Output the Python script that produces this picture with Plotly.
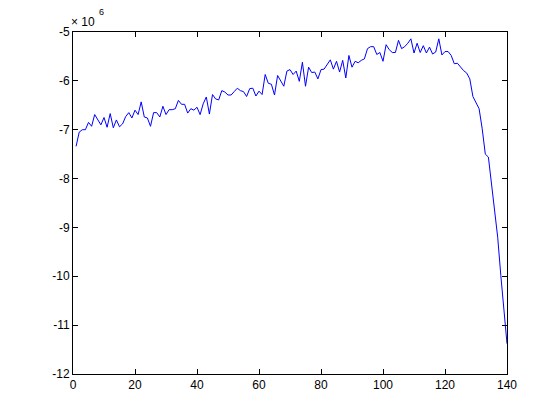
import plotly.graph_objects as go

# sample index and value (in units of 1e6)
steps = list(range(1, 141))
values = [
    -7.34, -7.05, -7.00, -7.00, -6.85, -6.93, -6.69, -6.80, -6.90, -6.75,
    -6.95, -6.67, -6.96, -6.80, -6.94, -6.88, -6.73, -6.65, -6.76, -6.60,
    -6.69, -6.43, -6.74, -6.76, -6.93, -6.65, -6.65, -6.74, -6.52, -6.69,
    -6.59, -6.59, -6.57, -6.40, -6.48, -6.48, -6.66, -6.57, -6.60, -6.54,
    -6.69, -6.47, -6.33, -6.68, -6.28, -6.37, -6.39, -6.20, -6.23, -6.29,
    -6.29, -6.22, -6.15, -6.20, -6.22, -6.32, -6.16, -6.15, -6.31, -6.21,
    -6.28, -5.87, -6.05, -6.07, -6.29, -5.89, -5.99, -6.11, -5.80, -5.77,
    -5.87, -5.80, -6.01, -5.62, -6.11, -5.72, -5.83, -5.82, -5.96, -5.77,
    -5.76, -5.65, -5.57, -5.76, -5.60, -5.82, -5.58, -5.94, -5.48, -5.72,
    -5.60, -5.63, -5.58, -5.55, -5.34, -5.30, -5.30, -5.46, -5.42, -5.60,
    -5.26, -5.36, -5.42, -5.42, -5.17, -5.34, -5.30, -5.23, -5.14, -5.43,
    -5.23, -5.42, -5.28, -5.43, -5.31, -5.45, -5.41, -5.14, -5.47, -5.40,
    -5.40, -5.48, -5.65, -5.64, -5.72, -5.79, -5.84, -5.96, -6.32, -6.44,
    -6.57, -6.98, -7.50, -7.56, -8.10, -8.69, -9.20, -9.98, -10.76, -11.38,
]

x_ticks = [0, 20, 40, 60, 80, 100, 120, 140]
y_ticks = [-12, -11, -10, -9, -8, -7, -6, -5]
y_labels = [str(v) for v in y_ticks]  # plain hyphen, like the original

FONT = dict(family="Liberation Sans", size=12, color="black")

AXIS = dict(
    showgrid=False, zeroline=False,
    showline=True, linecolor="black", linewidth=1, mirror="ticks",
    ticks="inside", ticklen=5, tickcolor="black",
    tickfont=FONT,
)

fig = go.Figure(go.Scatter(
    x=steps, y=values, mode="lines",
    line=dict(color="#0000ff", width=1),
    hoverinfo="skip",
))

fig.update_xaxes(**AXIS, range=[0, 140], tickvals=x_ticks)
fig.update_yaxes(**AXIS, range=[-12, -5], tickvals=y_ticks, ticktext=y_labels)

# MATLAB-style exponent label above the top-left corner
fig.add_annotation(
    xref="paper", yref="paper", x=0, y=1, xanchor="left", yanchor="bottom",
    text="× 10", showarrow=False, yshift=1, xshift=-4,
    font=FONT,
)
fig.add_annotation(
    xref="paper", yref="paper", x=0, y=1, xanchor="left", yanchor="bottom",
    text="6", showarrow=False, yshift=13, xshift=24,
    font=dict(family="Liberation Sans", size=9, color="black"),
)

# page body adds an 8px offset, so the figure is sized to fit inside it
fig.update_layout(
    width=544, height=404,
    margin=dict(l=65, r=45, t=24, b=38),
    paper_bgcolor="white", plot_bgcolor="white",
    showlegend=False,
)

fig.write_html("out.html")
